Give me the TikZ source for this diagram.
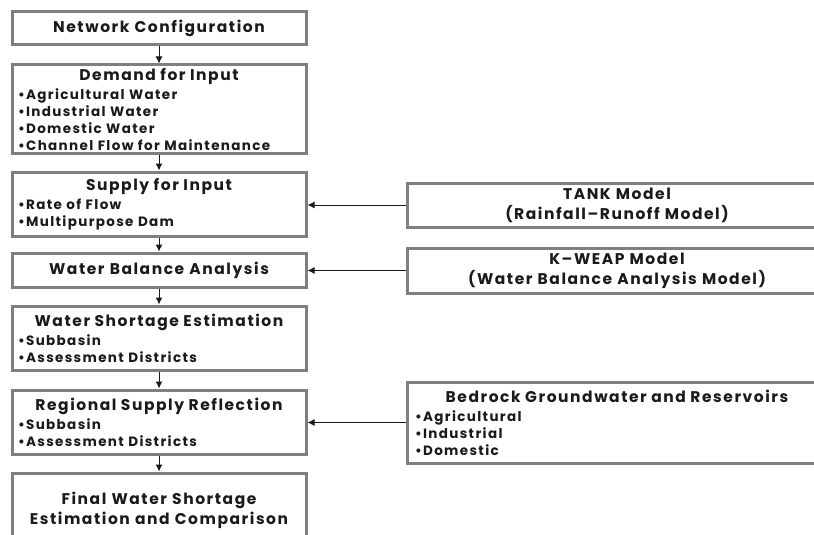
\documentclass[tikz,border=0pt]{standalone}
\usepackage{fontspec}
\setmainfont{Poppins}[LetterSpace=10]
\usetikzlibrary{arrows.meta}

\definecolor{boxgray}{HTML}{7F7F7F}
\definecolor{inkgray}{HTML}{1A1A1A}
\newcommand{\hd}[1]{{\centering\fontsize{15.5}{20}\selectfont #1\par}\vspace{2pt}}

\begin{document}
\begin{tikzpicture}[x=1pt,y=-1pt,
  font=\bfseries\fontsize{13.5}{17}\selectfont, text=inkgray,
  leftbox/.style={draw=boxgray, line width=3pt, fill=white, minimum width=294pt,
    text width=282pt, inner xsep=3pt, inner ysep=2pt, align=left},
  rightbox/.style={draw=boxgray, line width=3pt, fill=white, minimum width=420pt,
    text width=404pt, inner xsep=3pt, inner ysep=2pt, align=left},
  title/.style={font=\bfseries\fontsize{15.5}{20}\selectfont, align=center},
  flow/.style={line width=1pt, inkgray, -{Latex[length=7pt,width=7pt]}}]
\useasboundingbox (0,0) rectangle (814,535);
\clip (0,0) rectangle (814,535);

% main column
\node[leftbox, title, minimum height=33pt] (net) at (159,28.5) {Network Configuration};
\node[leftbox, minimum height=88pt] (demand) at (159,109) {\hd{Demand for Input}
  •Agricultural Water\\
  •Industrial Water\\
  •Domestic Water\\
  •Channel Flow for Maintenance};
\node[leftbox, minimum height=64pt] (supply) at (159,204) {\hd{Supply for Input}
  •Rate of Flow\\
  •Multipurpose Dam};
\node[leftbox, title, minimum height=34pt] (balance) at (159,270) {Water Balance Analysis};
\node[leftbox, minimum height=64pt] (shortage) at (159,338) {\hd{Water Shortage Estimation}
  •Subbasin\\
  •Assessment Districts};
\node[leftbox, minimum height=64pt] (regional) at (159,422) {\hd{Regional Supply Reflection}
  •Subbasin\\
  •Assessment Districts};
\node[leftbox, title, minimum height=74pt] (final) at (159,510) {Final Water Shortage\\ Estimation and Comparison};

% models
\node[rightbox, title, minimum height=44pt] (tank) at (617,205) {TANK Model\\ (Rainfall--Runoff Model)};
\node[rightbox, title, minimum height=45pt] (kweap) at (617,270.5) {K--WEAP Model\\ (Water Balance Analysis Model)};
\node[rightbox, minimum height=81pt] (bedrock) at (617,422.5) {\hd{Bedrock Groundwater and Reservoirs}
  •Agricultural\\
  •Industrial\\
  •Domestic};

\foreach \a/\b in {net/demand,demand/supply,supply/balance,balance/shortage,shortage/regional,regional/final}{
  \draw[flow] (\a.south) -- (\b.north);
}

\draw[flow] (tank.west) -- (tank.west -| supply.east);
\draw[flow] (kweap.west) -- (kweap.west -| balance.east);
\draw[flow] (bedrock.west) -- (bedrock.west -| regional.east);
\end{tikzpicture}
\end{document}
